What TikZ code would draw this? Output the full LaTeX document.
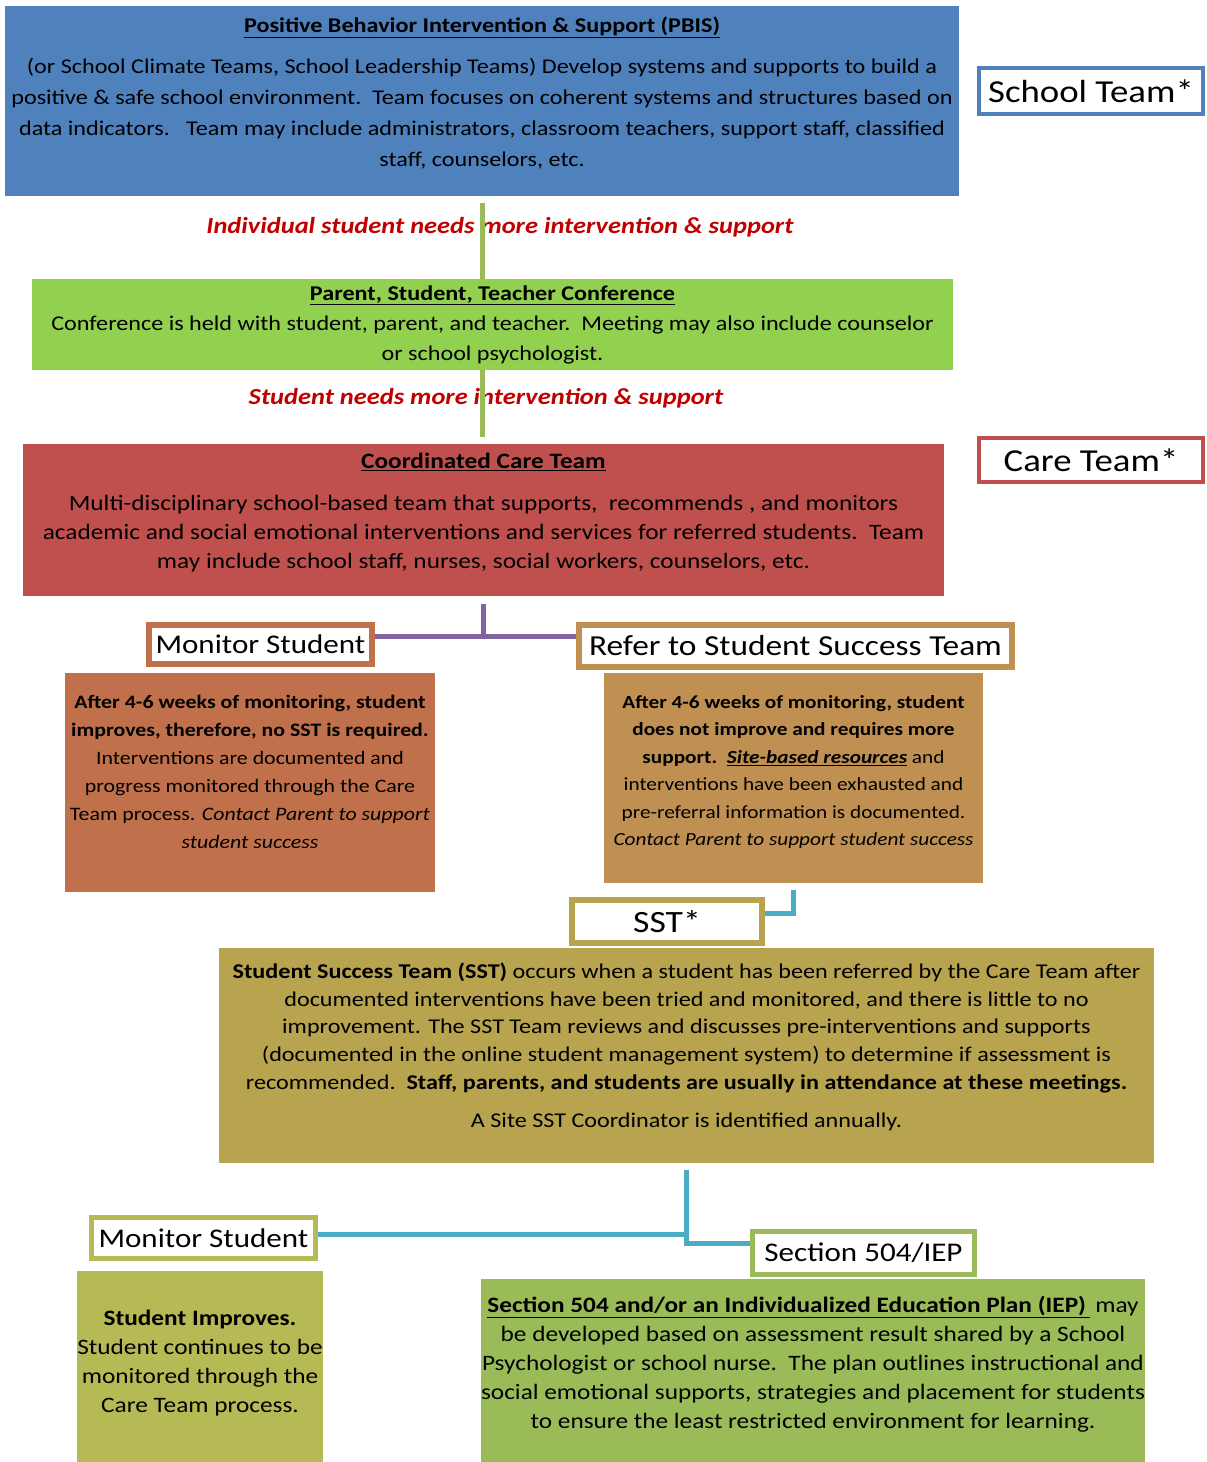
\documentclass[tikz,border=0pt]{standalone}
\usepackage{fontspec}
\setmainfont[FakeStretch=1.15]{Carlito}
\usetikzlibrary{backgrounds}

\definecolor{pbisblue}{HTML}{4F81BD}
\definecolor{confgreen}{HTML}{92D050}
\definecolor{linegreen}{HTML}{9BBB59}
\definecolor{carered}{HTML}{C0504D}
\definecolor{notered}{HTML}{C00000}
\definecolor{linepurple}{HTML}{8064A2}
\definecolor{monorange}{RGB}{192,112,74}
\definecolor{refertan}{RGB}{192,143,82}
\definecolor{lineteal}{HTML}{4BACC6}
\definecolor{sstolive}{RGB}{184,164,79}
\definecolor{mononolive}{RGB}{181,186,84}
\definecolor{secgreen}{HTML}{9BBB59}

\newcommand{\fsz}[2]{\fontsize{#1}{#2}\selectfont}
\newcommand{\lift}[1]{\rule[-#1]{0pt}{#1}}

\begin{document}
\begin{tikzpicture}[x=1pt,y=-1pt,
	body/.style={inner sep=0pt, align=center, text=black},
	tag/.style={draw, fill=white, inner sep=0pt, line width=5pt, text=black},
	note/.style={font=\bfseries\itshape\fsz{23}{26}, text=notered, inner sep=0pt},
	link/.style={line width=5pt},
]
	\useasboundingbox (0,0) rectangle (1207,1462);

	% school level
	\node[body, fill=pbisblue, minimum width=954pt, minimum height=190pt, font=\fsz{21}{31}] (pbis) at (482,101)
		{\textbf{\underline{Positive Behavior Intervention \& Support (PBIS)}}\\[10pt]
		(or School Climate Teams, School Leadership Teams) Develop systems and supports to build a\\
		positive \& safe school environment.\ \ Team focuses on coherent systems and structures based on\\
		data indicators.\ \ \ Team may include administrators, classroom teachers, support staff, classified\\
		staff, counselors, etc.\lift{19pt}};
	\node[tag, draw=pbisblue, line width=4pt, minimum width=224pt, minimum height=46pt, font=\fsz{32}{34}] (schooltag) at (1091,91) {School Team*};

	\node[note] (note1) at (500,227) {Individual student needs more intervention \& support};

	\node[body, fill=confgreen, minimum width=921pt, minimum height=91pt, font=\fsz{21}{30}] (conf) at (492.5,324.5)
		{\textbf{\underline{Parent, Student, Teacher Conference}}\\
		Conference is held with student, parent, and teacher.\ \ Meeting may also include counselor\\
		or school psychologist.};

	\node[note] (note2) at (486,398) {Student needs more intervention \& support};

	% care team
	\node[body, fill=carered, minimum width=921pt, minimum height=152pt, font=\fsz{22}{29}] (care) at (483.5,520)
		{\textbf{\underline{Coordinated Care Team}}\\[13pt]
		Multi-disciplinary school-based team that supports,\ \ recommends , and monitors\\
		academic and social emotional interventions and services for referred students.\ \ Team\\
		may include school staff, nurses, social workers, counselors, etc.\lift{19pt}};
	\node[tag, draw=carered, line width=4pt, minimum width=224pt, minimum height=44pt, font=\fsz{32}{34}] (caretag) at (1091,460) {Care Team*};

	\node[tag, draw=monorange, line width=6pt, minimum width=223pt, minimum height=39pt, font=\fsz{27}{29}] (montag) at (260.5,644.5) {Monitor Student};
	\node[tag, draw=refertan, line width=6pt, minimum width=433pt, minimum height=42pt, font=\fsz{29}{31}] (reftag) at (795.5,646) {Refer to Student Success Team};

	\node[body, fill=monorange, minimum width=370pt, minimum height=219pt, font=\fsz{19}{28}] (monbody) at (250,782.5)
		{\textbf{After 4-6 weeks of monitoring, student}\\
		\textbf{improves, therefore, no SST is required.}\\
		Interventions are documented and\\
		progress monitored through the Care\\
		Team process. \textit{Contact Parent to support}\\
		\textit{student success}\lift{21pt}};
	\node[body, fill=refertan, minimum width=379pt, minimum height=210pt, font=\fsz{18.5}{27.5}] (refbody) at (793.5,778)
		{\textbf{After 4-6 weeks of monitoring, student}\\
		\textbf{does not improve and requires more}\\
		\textbf{support.}\ \ \textbf{\textit{\underline{Site-based resources}}} and\\
		interventions have been exhausted and\\
		pre-referral information is documented.\\
		\textit{Contact Parent to support student success}\lift{15pt}};

	% student success team
	\node[tag, draw=sstolive, line width=6pt, minimum width=190pt, minimum height=43pt, font=\fsz{31}{33}] (ssttag) at (667,921.5) {SST*};
	\node[body, fill=sstolive, minimum width=935pt, minimum height=215pt, font=\fsz{21}{27.8}] (sstbody) at (686.5,1055.5)
		{\textbf{Student Success Team (SST)} occurs when a student has been referred by the Care Team after\\
		documented interventions have been tried and monitored, and there is little to no\\
		improvement. The SST Team reviews and discusses pre-interventions and supports\\
		(documented in the online student management system) to determine if assessment is\\
		recommended.\ \ \textbf{Staff, parents, and students are usually in attendance at these meetings.}\\[10pt]
		A Site SST Coordinator is identified annually.\lift{21pt}};

	\node[tag, draw=mononolive, minimum width=224pt, minimum height=41pt, font=\fsz{27}{29}] (mon2tag) at (203.5,1238) {Monitor Student};
	\node[tag, draw=secgreen, minimum width=222pt, minimum height=43pt, font=\fsz{27}{29}] (sectag) at (863.5,1253) {Section 504/IEP};

	\node[body, fill=mononolive, minimum width=246pt, minimum height=191pt, font=\fsz{22}{29}] (mon2body) at (200,1366.5)
		{\textbf{Student Improves.}\\
		Student continues to be\\
		monitored through the\\
		Care Team process.\lift{11pt}};
	\node[body, fill=secgreen, minimum width=664pt, minimum height=183pt, font=\fsz{22}{29}] (secbody) at (813,1370.5)
		{\textbf{\underline{Section 504 and/or an Individualized Education Plan (IEP)\,}}\ may\\
		be developed based on assessment result shared by a School\\
		Psychologist or school nurse.\ \ The plan outlines instructional and\\
		social emotional supports, strategies and placement for students\\
		to ensure the least restricted environment for learning.\lift{17pt}};

	% connectors
	\draw[link, linegreen, shorten <=7pt] (pbis.south) -- (pbis.south |- conf.north);
	\draw[link, linegreen, shorten >=7pt] (pbis.south |- conf.south) -- (pbis.south |- care.north);

	\coordinate (pj) at (484,636);
	\begin{scope}[on background layer]
		\draw[link, linepurple, shorten <=8pt] (care.south) -- (care.south |- pj);
		\draw[link, linepurple] (montag.east |- pj) -- (reftag.west |- pj);
		\draw[link, lineteal, shorten <=7pt] (refbody.south) |- ([yshift=8.5pt]ssttag.east);
		\draw[link, lineteal, shorten <=7pt] (sstbody.south) |- ([yshift=10pt]sectag.west);
		\path ([yshift=4pt]mon2tag.east) coordinate (m2e);
		\draw[link, lineteal] (m2e) -- (m2e -| sstbody.south);
	\end{scope}
\end{tikzpicture}
\end{document}
